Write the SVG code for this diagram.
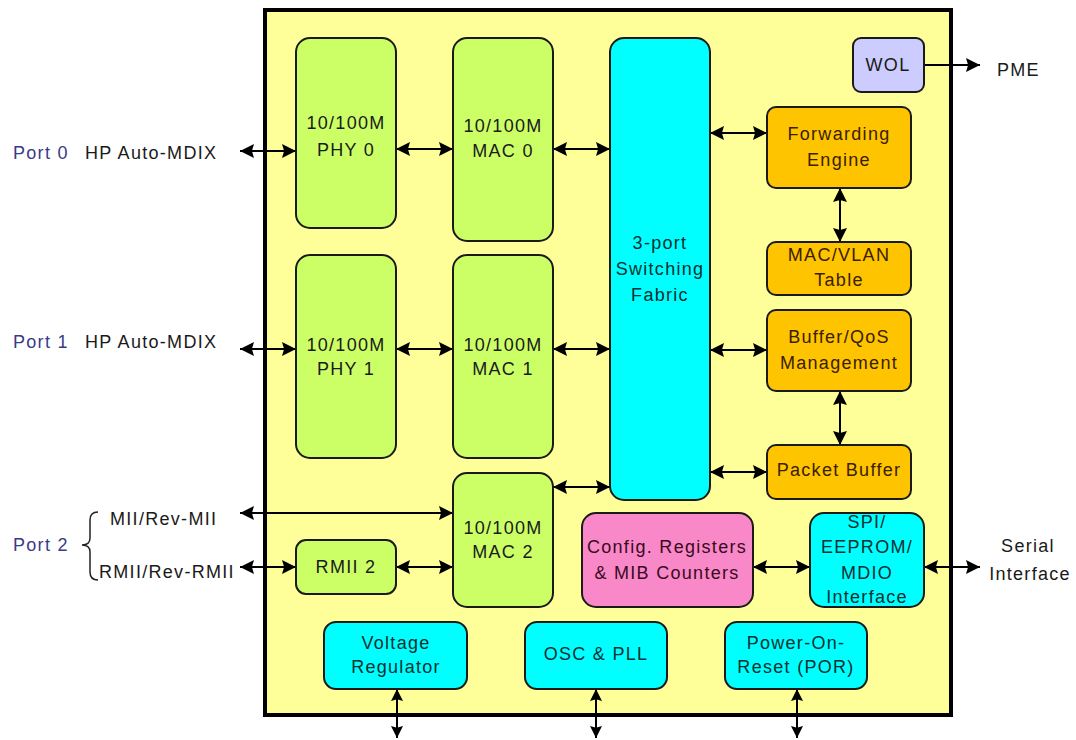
<svg xmlns="http://www.w3.org/2000/svg" width="1076" height="740" viewBox="0 0 1076 740">
<style>
text{font-family:"Liberation Sans",Arial,sans-serif;font-size:18px;letter-spacing:1.3px;fill:#1a1a1a;text-anchor:middle;dominant-baseline:central}
.lbl{text-anchor:start}
.port{fill:#3a3a88;text-anchor:start}
.g{fill:#ccff66;stroke:#1a1a1a;stroke-width:2}
.c{fill:#00ffff;stroke:#1a1a1a;stroke-width:2}
.o{fill:#ffc400;stroke:#1a1a1a;stroke-width:2}
.p{fill:#f888c8;stroke:#1a1a1a;stroke-width:2}
.w{fill:#ccccff;stroke:#1a1a1a;stroke-width:2}
.ot{fill:#3a2000}
.ct{fill:#0a3030}
.pt{fill:#3a0a20}
.ln{stroke:#000;stroke-width:2;fill:none}
.dbl{marker-start:url(#ah);marker-end:url(#ah)}
.sm{marker-start:url(#ahs);marker-end:url(#ahs)}
</style>
<defs>
<marker id="ah" viewBox="0 0 10 10" refX="10" refY="5" markerWidth="9" markerHeight="7" orient="auto-start-reverse" markerUnits="strokeWidth"><path d="M0,0 L10,5 L0,10 L1.5,5 z" fill="#000"/></marker>
<marker id="ahs" viewBox="0 0 10 10" refX="10" refY="5" markerWidth="6" markerHeight="6" orient="auto-start-reverse" markerUnits="strokeWidth"><path d="M0,0 L10,5 L0,10 L1.5,5 z" fill="#000"/></marker>
</defs>
<rect width="1076" height="740" fill="#fff"/>
<g id="chip"><rect x="265" y="10" width="686" height="705" fill="#ffff99" stroke="#000" stroke-width="4"/></g>

<g id="connectors">
<line class="ln dbl" x1="240" y1="151" x2="296" y2="151"/>
<line class="ln dbl" x1="396" y1="149" x2="453" y2="149"/>
<line class="ln dbl" x1="553" y1="149" x2="610" y2="149"/>
<line class="ln dbl" x1="240" y1="349" x2="296" y2="349"/>
<line class="ln dbl" x1="396" y1="349" x2="453" y2="349"/>
<line class="ln dbl" x1="553" y1="349" x2="610" y2="349"/>
<line class="ln dbl" x1="710" y1="133" x2="767" y2="133"/>
<line class="ln dbl" x1="710" y1="350" x2="767" y2="350"/>
<line class="ln dbl" x1="710" y1="472" x2="767" y2="472"/>
<line class="ln dbl" x1="840" y1="188" x2="840" y2="242"/>
<line class="ln dbl" x1="840" y1="391" x2="840" y2="445"/>
<line class="ln" x1="924" y1="65" x2="980" y2="65" marker-end="url(#ah)"/>
<line class="ln dbl" x1="553" y1="487" x2="610" y2="487"/>
<line class="ln" x1="240" y1="513" x2="453" y2="513" stroke-width="1.7" style="marker-start:url(#ah);marker-end:url(#ah)"/>
<line class="ln dbl" x1="240" y1="567" x2="296" y2="567"/>
<line class="ln dbl" x1="396" y1="567" x2="453" y2="567"/>
<line class="ln dbl" x1="753" y1="567" x2="810" y2="567"/>
<line class="ln dbl" x1="924" y1="567" x2="980" y2="567"/>
<line class="ln sm" x1="397" y1="689" x2="397" y2="738"/>
<line class="ln sm" x1="596" y1="689" x2="596" y2="738"/>
<line class="ln sm" x1="797" y1="689" x2="797" y2="738"/>
</g>

<g id="phy0"><rect class="g" x="296" y="38" width="100" height="190" rx="14"/><text x="346" y="123">10/100M</text><text x="346" y="150">PHY 0</text></g>
<g id="mac0"><rect class="g" x="453" y="38" width="100" height="203" rx="14"/><text x="503" y="126">10/100M</text><text x="503" y="151">MAC 0</text></g>
<g id="phy1"><rect class="g" x="296" y="255" width="100" height="203" rx="14"/><text x="346" y="345">10/100M</text><text x="346" y="369">PHY 1</text></g>
<g id="mac1"><rect class="g" x="453" y="255" width="100" height="203" rx="14"/><text x="503" y="345">10/100M</text><text x="503" y="369">MAC 1</text></g>
<g id="fabric"><rect class="c" x="610" y="38" width="100" height="462" rx="14"/><text class="ct" x="660" y="243">3-port</text><text class="ct" x="660" y="269">Switching</text><text class="ct" x="660" y="295">Fabric</text></g>
<g id="wol"><rect class="w" x="853" y="38" width="71" height="54" rx="8"/><text x="888" y="65" fill="#222255">WOL</text></g>
<g id="pme"><text class="lbl" x="997" y="70">PME</text></g>
<g id="fwd"><rect class="o" x="767" y="107" width="144" height="81" rx="9"/><text class="ot" x="839" y="134">Forwarding</text><text class="ot" x="839" y="160">Engine</text></g>
<g id="vlan"><rect class="o" x="767" y="242" width="144" height="53" rx="9"/><text class="ot" x="839" y="255">MAC/VLAN</text><text class="ot" x="839" y="280">Table</text></g>
<g id="qos"><rect class="o" x="767" y="310" width="144" height="81" rx="9"/><text class="ot" x="839" y="337">Buffer/QoS</text><text class="ot" x="839" y="363">Management</text></g>
<g id="pktbuf"><rect class="o" x="767" y="445" width="144" height="54" rx="9"/><text class="ot" x="839" y="470">Packet Buffer</text></g>
<g id="mac2"><rect class="g" x="453" y="473" width="100" height="134" rx="14"/><text x="503" y="528">10/100M</text><text x="503" y="552">MAC 2</text></g>
<g id="rmii2"><rect class="g" x="296" y="540" width="100" height="54" rx="10"/><text x="346" y="567">RMII 2</text></g>
<g id="config"><rect class="p" x="582" y="513" width="171" height="94" rx="14"/><text class="pt" x="667" y="547">Config. Registers</text><text class="pt" x="667" y="573">&amp; MIB Counters</text></g>
<g id="spi"><rect class="c" x="810" y="513" width="114" height="94" rx="14"/><text class="ct" x="867" y="522">SPI/</text><text class="ct" x="867" y="547">EEPROM/</text><text class="ct" x="867" y="573">MDIO</text><text class="ct" x="867" y="597">Interface</text></g>
<g id="serial"><text x="1028" y="546">Serial</text><text x="1030" y="574">Interface</text></g>
<g id="vreg"><rect class="c" x="324" y="622" width="143" height="67" rx="12"/><text class="ct" x="396" y="643">Voltage</text><text class="ct" x="396" y="667">Regulator</text></g>
<g id="osc"><rect class="c" x="525" y="622" width="142" height="67" rx="12"/><text class="ct" x="596" y="654">OSC &amp; PLL</text></g>
<g id="por"><rect class="c" x="725" y="622" width="142" height="67" rx="12"/><text class="ct" x="796" y="643">Power-On-</text><text class="ct" x="796" y="667">Reset (POR)</text></g>

<g id="port0"><text class="port" x="13" y="153">Port 0</text><text class="lbl" x="85" y="153">HP Auto-MDIX</text></g>
<g id="port1"><text class="port" x="13" y="342">Port 1</text><text class="lbl" x="85" y="342">HP Auto-MDIX</text></g>
<g id="port2"><text class="port" x="13" y="545">Port 2</text>
<path d="M98,512 Q90,512 90,520 L90,538 Q90,545 82,545 Q90,545 90,552 L90,572 Q90,580 98,580" fill="none" stroke="#222" stroke-width="1.5"/>
<text class="lbl" x="110" y="519">MII/Rev-MII</text><text class="lbl" x="99" y="572">RMII/Rev-RMII</text></g>
</svg>
